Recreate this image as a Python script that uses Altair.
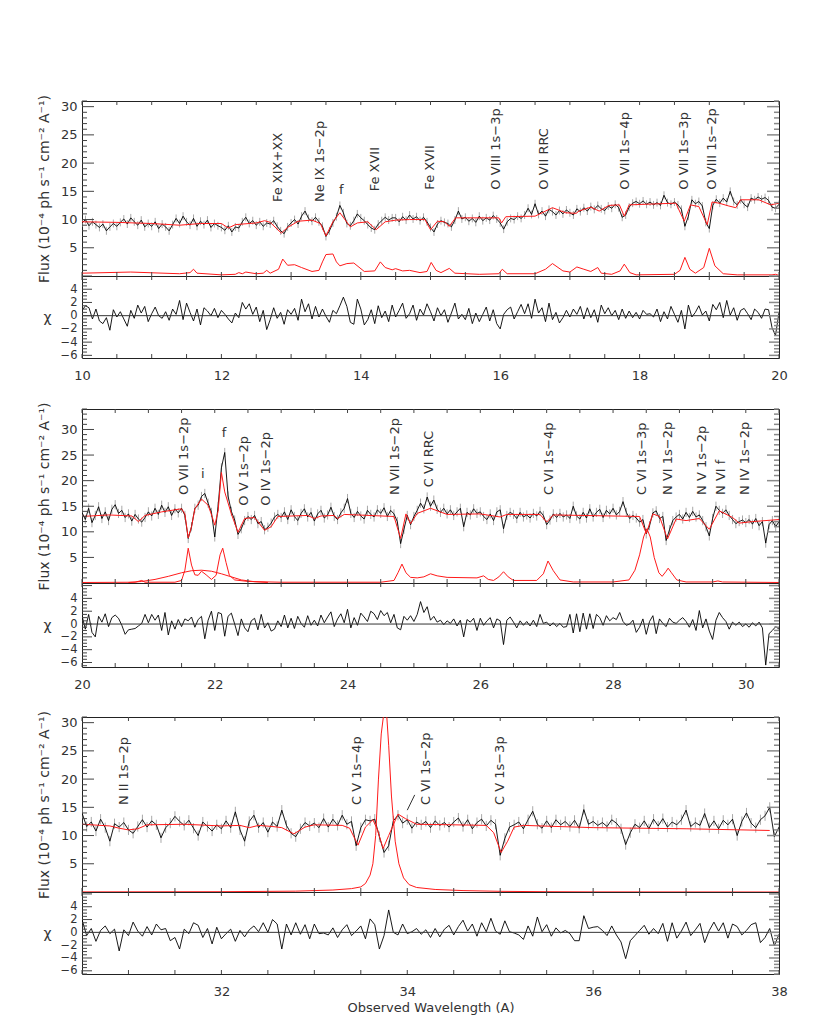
import altair as alt
import numpy as np
import pandas as pd

FONT = "DejaVu Sans"
TXT = "#333333"
W = 697
STEP = 0.05

# ---------------- Panel 1 (10-20 A) ----------------
P1_X0 = 10.0
P1_FLUX = [9.4, 10.0, 8.9, 9.6, 9.1, 8.6, 9.2, 8.0, 8.7, 9.3,
           8.8, 9.5, 10.1, 9.2, 10.3, 9.6, 9.0, 9.9, 8.7, 9.3,
           8.8, 9.6, 8.4, 9.2, 8.7, 8.0, 9.1, 10.2, 9.3, 10.6,
           9.6, 9.0, 10.2, 8.8, 9.7, 9.1, 9.9, 8.6, 9.3, 8.9,
           8.6, 8.1, 8.9, 7.8, 8.7, 8.5, 9.6, 10.4, 9.3, 9.8,
           9.0, 9.6, 8.8, 9.4, 9.2, 9.8, 8.8, 8.0, 7.5, 8.7,
           9.4, 10.0, 9.2, 10.6, 11.5, 10.2, 9.7, 10.4, 9.6, 8.8,
           7.0, 8.0, 9.4, 10.5, 12.5, 11.2, 9.3, 8.9, 9.8, 11.0,
           10.3, 9.8, 9.1, 8.5, 8.2, 9.2, 9.8, 10.4, 9.9, 10.3,
           10.3, 9.6, 10.5, 9.9, 10.8, 10.1, 10.5, 9.8, 10.4, 9.6,
           8.6, 7.8, 9.2, 9.8, 9.5, 9.3, 8.7, 9.9, 11.5, 10.1,
           10.4, 9.7, 10.2, 9.5, 10.6, 9.8, 10.3, 9.9, 10.7, 10.1,
           9.4, 8.3, 9.6, 10.2, 10.0, 10.6, 10.2, 10.8, 12.0, 10.9,
           12.8, 10.9, 11.5, 10.6, 11.8, 11.4, 10.8, 11.6, 11.0, 11.7,
           11.2, 10.8, 11.9, 11.4, 12.1, 11.5, 12.3, 11.8, 12.5, 11.9,
           11.6, 12.4, 12.0, 12.7, 12.1, 10.4, 10.8, 12.2, 12.9, 13.2,
           12.8, 13.3, 12.7, 13.1, 12.6, 13.0, 12.5, 14.3, 13.0, 12.7,
           13.1, 12.6, 11.8, 8.8, 10.6, 13.5, 12.8, 13.2, 12.4, 9.5,
           8.4, 12.5, 13.6, 12.9, 13.8, 13.1, 15.0, 13.2, 12.6, 13.5,
           12.7, 12.2, 13.8, 13.5, 14.0, 13.6, 13.9, 13.4, 12.2, 12.0,
           12.7]
P1_CHI = [0.8, 1.5, 1.2, -0.5, 1.0, -0.8, -1.2, -0.3, -2.2, 0.9,
          -0.2, 0.6, -0.5, -1.6, 0.8, -0.4, 1.6, 0.4, 1.4, -0.9,
          0.3, 1.3, 0.0, -0.4, 0.6, -0.7, 1.0, 0.2, 2.3, -0.6,
          1.9, 0.5, -0.8, 1.0, -1.4, 1.2, 0.7, 0.0, 1.1, -0.3,
          0.8, 0.2, -0.5, -1.1, 0.4, -0.3, 2.0, 1.0, 1.8, 0.2,
          1.3, -0.9, 0.8, -2.1, -0.6, 1.2, -0.4, 0.5, -1.3, 0.9,
          0.2, 1.1, -0.7, 2.5, 0.6, 1.8, -0.5, 1.4, -0.2, 1.0,
          -0.1, -1.0, 0.8, 0.3, 1.5, 2.8, 1.4, -1.0, -1.3, 2.5,
          1.0, -1.4, -0.6, 0.9, -1.2, 1.5, -0.3, 0.7, -0.9, 1.6,
          -0.2, 0.8, 1.9, -0.4, 0.3, 1.6, -0.7, 1.0, 0.1, 1.8,
          0.6, -0.8, 1.2, 0.0, 0.9, -1.0, 0.4, 1.9, -0.5, 0.2,
          -0.6, 1.1, -1.2, 0.4, -0.9, 0.2, 1.3, -0.8, 0.9, -1.2,
          -2.0, 0.2, 0.9, 1.3, -0.5, 0.6, 1.7, 0.3, 1.8, -0.4,
          2.5, 0.4, 1.2, -0.9, 1.9, -0.6, 0.5, -1.1, -0.3, 0.8,
          -0.2, 1.0, 0.2, 1.4, -0.5, 1.2, -0.3, 0.9, -1.0, 1.6,
          0.3, 1.2, 0.0, 0.8, -0.6, 1.0, -0.4, 0.7, -0.3, 0.5,
          -0.5, 0.8, 0.2, 0.3, -0.2, 1.0, -0.9, 0.6, -0.5, 1.4,
          0.2, -1.0, 0.8, -2.0, 1.6, -0.2, 0.5, 1.5, 0.1, 0.7,
          -0.8, 1.7, 0.9, 2.0, -0.3, 2.3, 0.1, 1.2, -0.7, 0.8,
          1.1, 0.3, -0.6, 1.0, 0.5, -0.4, 1.0, 0.9, -1.8, -3.0,
          0.5]
P1_MODEL_LAM = [10.0, 10.5, 11.0, 11.4, 11.7, 12.0, 12.1, 12.2, 12.5, 12.62, 12.7, 12.86,
                12.95, 13.1, 13.3, 13.42, 13.5, 13.6, 13.7, 13.85, 13.95, 14.1, 14.22, 14.35,
                14.5, 14.7, 14.92, 15.0, 15.1, 15.2, 15.27, 15.36, 15.98, 16.02, 16.08, 16.5,
                16.75, 16.94, 17.09, 17.13, 17.3, 17.42, 17.56, 17.71, 17.78, 17.85, 18.52,
                18.64, 18.73, 18.85, 18.97, 19.04, 19.14, 19.28, 19.38, 19.45, 19.71, 19.88, 20.0]
P1_MODEL = [9.6, 9.5, 9.3, 9.0, 9.3, 9.3, 8.5, 9.1, 9.4, 9.8, 9.5, 7.6,
            8.6, 9.7, 9.9, 9.3, 7.1, 9.6, 11.2, 8.7, 9.4, 9.6, 8.2, 9.6,
            9.9, 10.0, 10.0, 8.2, 9.7, 9.6, 8.8, 10.3, 10.3, 9.4, 10.5, 10.6,
            12.1, 11.2, 11.1, 11.5, 12.2, 11.5, 12.5, 12.6, 10.6, 12.6, 12.9,
            9.7, 12.6, 12.3, 9.1, 13.1, 12.9, 12.4, 12.1, 13.5, 13.5, 12.6, 12.9]
P1_COMP_LAM = [10.0, 10.7, 11.4, 11.55, 11.6, 11.65, 12.0, 12.2, 12.25, 12.3, 12.35, 12.5,
               12.6, 12.65, 12.7, 12.82, 12.88, 12.95, 13.05, 13.15, 13.3, 13.4, 13.45, 13.5,
               13.6, 13.65, 13.7, 13.8, 13.9, 14.05, 14.2, 14.28, 14.35, 14.45, 14.5, 14.6,
               14.7, 14.85, 14.95, 15.01, 15.08, 15.15, 15.27, 15.35, 15.7, 15.98, 16.03, 16.1,
               16.5, 16.65, 16.75, 16.9, 17.0, 17.1, 17.2, 17.3, 17.4, 17.45, 17.6, 17.72,
               17.78, 17.86, 17.95, 18.5, 18.58, 18.65, 18.72, 18.8, 18.92, 19.0, 19.08, 19.2,
               19.4, 19.9, 19.95, 20.0]
P1_COMP = [0.5, 0.7, 0.4, 0.6, 1.2, 0.5, 0.2, 0.3, 0.6, 0.4, 0.7, 0.4,
           0.5, 1.0, 0.5, 1.2, 3.0, 1.9, 2.0, 1.5, 0.8, 1.0, 2.5, 3.8,
           3.9, 2.5, 1.8, 2.2, 2.3, 0.8, 0.9, 2.5, 1.5, 1.1, 1.3, 0.9,
           1.0, 0.6, 0.8, 2.4, 1.0, 0.6, 1.35, 0.5, 0.3, 0.4, 1.2, 0.4,
           0.4, 1.2, 2.2, 0.9, 0.7, 1.6, 1.2, 0.8, 1.5, 0.5, 0.3, 0.9,
           2.1, 0.6, 0.2, 0.3, 1.0, 3.3, 1.2, 0.5, 1.5, 4.9, 1.8, 0.4,
           0.2, 0.2, 0.3, 0.1]
P1_LABELS = ["Fe XIX+XX", "Ne IX 1s\u22122p", "Fe XVII", "Fe XVII", "O VIII 1s\u22123p",
             "O VII RRC", "O VII 1s\u22124p", "O VII 1s\u22123p", "O VIII 1s\u22122p"]
P1_LABEL_LAM = [12.81, 13.41, 14.2, 14.99, 15.94, 16.63, 17.79, 18.64, 19.04]
P1_LABEL_Y = [13.1, 13.1, 15.0, 15.3, 15.3, 15.3, 15.3, 15.3, 15.3]
P1_UP = ["f"]
P1_UP_LAM = [13.72]
P1_UP_Y = [14.0]

# ---------------- Panel 2 (20-30.5 A) ----------------
P2_X0 = 20.0
P2_FLUX = [13.8, 12.4, 14.6, 11.8, 13.2, 14.9, 12.6, 13.9, 12.2, 14.4,
           15.3, 13.6, 14.2, 12.8, 13.5, 12.1, 13.4, 12.5, 11.9, 12.8,
           13.9, 13.1, 14.6, 13.4, 15.2, 13.8, 14.9, 13.2, 14.5, 13.7,
           14.6, 13.2, 8.7, 11.0, 14.6, 15.2, 16.9, 17.5, 15.6, 13.8,
           9.0, 15.0, 22.5, 25.5, 17.0, 14.0, 12.3, 9.5, 10.6, 12.2,
           13.0, 12.4, 13.2, 11.6, 12.0, 10.4, 10.9, 11.7, 12.9, 13.4,
           12.8, 13.9, 12.4, 14.3, 13.0, 12.2, 13.6, 14.5, 12.9, 13.8,
           12.1, 13.5, 14.2, 12.7, 13.3, 14.8, 13.0, 12.4, 13.7, 14.6,
           16.5, 13.6, 12.8, 14.0, 13.1, 12.5, 14.2, 13.4, 12.9, 14.3,
           13.6, 14.7, 13.0, 14.2, 13.5, 12.0, 7.7, 10.5, 13.2, 11.4,
           13.0, 14.2, 15.6, 14.5, 16.8, 15.0, 16.2, 14.4, 13.8, 14.6,
           13.5, 14.3, 13.2, 13.9, 14.6, 11.0, 13.8, 13.3, 14.5, 13.6,
           13.9, 13.0, 12.4, 13.5, 12.2, 13.9, 14.3, 10.6, 13.2, 13.8,
           13.4, 12.6, 13.8, 12.9, 13.3, 12.7, 13.6, 13.1, 14.0, 13.2,
           11.4, 12.3, 13.5, 12.8, 13.6, 12.9, 13.3, 12.6, 15.0, 13.1,
           12.5, 13.8, 12.7, 14.5, 12.9, 13.8, 14.4, 12.8, 14.2, 13.5,
           14.6, 13.3, 14.0, 15.9, 13.8, 12.6, 13.2, 12.7, 11.9, 12.4,
           9.6, 11.2, 13.7, 14.1, 12.6, 13.0, 8.3, 10.4, 12.2, 12.9,
           13.4, 12.5, 13.8, 12.8, 14.0, 12.9, 13.3, 12.2, 11.0, 9.2,
           12.6, 15.0, 14.2, 13.6, 14.3, 13.2, 12.4, 11.6, 12.0, 12.3,
           11.8, 12.4, 11.5, 12.6, 11.2, 12.0, 7.8, 11.4, 12.2, 11.0,
           12.0]
P2_CHI = [1.3, -0.8, 1.5, -1.3, -2.0, 1.2, 0.3, 1.6, -0.4, 1.0,
          1.4, 0.9, -0.2, -1.6, -0.9, -0.8, -0.7, -0.3, 0.1, 1.5,
          0.2, 1.5, 0.6, 1.4, -1.0, 1.8, -1.7, 0.5, -0.8, 0.7,
          -0.4, 0.8, 0.5, 1.1, -0.5, 0.7, 1.2, -2.3, 0.6, 2.0,
          -1.0, 1.8, 1.6, -1.9, 1.2, 1.7, 0.0, -1.8, 0.8, -0.6,
          -1.2, 0.5, 0.9, -0.9, 1.5, -0.6, 0.2, -1.1, -0.8, 0.5,
          -0.4, 1.4, -0.6, 0.9, -0.7, 1.2, 0.1, -0.5, 1.3, -0.2,
          0.6, -0.3, 1.4, 0.2, 1.1, 1.9, -0.4, 0.8, 1.6, 0.2,
          2.3, -0.6, 1.0, -0.2, 1.7, 1.1, 0.4, 2.0, 1.6, 0.7,
          2.1, 1.3, 1.8, 0.2, 1.5, -0.6, -0.9, 1.2, 0.6, 1.3,
          0.4, 1.5, 3.5, 1.8, 2.7, 0.6, 1.2, 0.3, 0.6, -0.1,
          0.5, 0.1, 0.8, -0.3, 0.6, -2.0, 0.7, 0.3, 0.9, -1.0,
          0.9, -0.2, 0.5, 1.0, -0.6, 0.8, 0.5, -3.2, 0.6, 1.1,
          0.3, -0.6, 0.5, -0.2, 0.4, -0.3, 0.6, -0.4, 1.5, 0.1,
          0.3, -0.3, 0.2, -0.4, 0.1, -0.5, -0.4, 1.5, -1.4, 1.6,
          -1.2, 1.7, -0.8, 1.6, -0.7, 1.5, 1.0, -0.2, 1.3, 0.5,
          1.0, 0.7, 1.8, 0.4, -0.2, 0.0, 0.6, -1.3, -0.5, 0.8,
          -1.6, 0.4, 1.3, -1.5, 0.8, 0.1, -0.4, 0.9, 0.3, 0.1,
          0.6, 1.0, 0.4, -0.5, 0.7, -1.0, 2.1, -0.6, 0.8, -1.1,
          -2.4, 0.6, 1.8, 1.0, 0.4, -0.8, 0.3, -0.2, 0.3, -0.4,
          0.0, -0.5, 0.2, -0.3, 0.3, -0.6, -6.4, -1.5, -1.0, -0.4,
          -0.8]
P2_MODEL_LAM = [20.0, 20.4, 20.75, 20.85, 20.95, 21.2, 21.5, 21.55, 21.6, 21.65, 21.7, 21.8,
                21.9, 21.96, 22.0, 22.05, 22.1, 22.15, 22.25, 22.35, 22.45, 22.6, 22.75, 22.85,
                22.95, 23.4, 23.5, 23.6, 23.8, 23.85, 23.95, 24.7, 24.8, 24.88, 24.95, 25.05,
                25.25, 25.5, 26.0, 26.3, 26.4, 26.9, 27.0, 27.1, 28.4, 28.5, 28.6, 28.7,
                28.82, 28.95, 29.1, 29.3, 29.45, 29.6, 29.8, 29.9, 30.1, 30.5]
P2_MODEL = [13.0, 13.3, 13.1, 12.0, 13.2, 13.9, 14.5, 13.5, 8.8, 11.0, 14.5, 16.4,
            15.2, 13.0, 11.3, 14.0, 21.6, 17.8, 13.5, 9.9, 12.6, 12.8, 10.3, 11.0,
            13.0, 13.2, 12.6, 13.1, 13.2, 12.6, 13.4, 13.0, 8.7, 13.5, 11.6, 13.6,
            14.6, 13.4, 13.5, 12.9, 13.4, 13.4, 11.9, 13.3, 13.0, 9.7, 13.5, 13.0,
            8.6, 12.5, 12.2, 12.6, 10.5, 14.1, 12.8, 11.7, 12.0, 12.4]
P2_COMP_LAM = [20.0, 20.8, 20.9, 20.95, 21.4, 21.5, 21.55, 21.6, 21.65, 21.7, 21.75, 21.8,
               21.87, 21.95, 22.02, 22.08, 22.12, 22.17, 22.22, 22.3, 22.5, 23.0, 24.5, 24.7,
               24.76, 24.82, 24.88, 24.95, 25.05, 25.15, 25.25, 25.35, 25.5, 25.95, 26.05,
               26.12, 26.2, 26.28, 26.35, 26.42, 26.5, 26.85, 26.95, 27.02, 27.1, 27.2, 27.4,
               28.0, 28.24, 28.33, 28.4, 28.46, 28.51, 28.56, 28.62, 28.69, 28.74, 28.8,
               28.83, 28.88, 28.96, 29.1, 29.5, 29.58, 29.65, 30.5]
P2_COMP = [0.1, 0.15, 0.5, 0.15, 0.15, 0.5, 2.5, 6.8, 3.5, 1.6, 1.5, 2.3,
           1.6, 0.7, 1.5, 5.5, 6.8, 4.0, 1.5, 0.6, 0.3, 0.15, 0.15, 0.5,
           2.0, 3.7, 2.0, 1.1, 1.0, 1.2, 1.8, 1.4, 1.1, 1.0, 1.4,
           0.7, 0.5, 1.2, 2.2, 1.2, 0.5, 0.5, 1.8, 4.3, 2.4, 0.6, 0.2,
           0.2, 0.6, 2.5, 5.5, 9.0, 10.6, 9.0, 5.0, 2.0, 1.3, 2.3,
           2.9, 2.0, 0.6, 0.2, 0.2, 0.4, 0.2, 0.1]
P2_BROAD_LAM = [20.7, 20.9, 21.1, 21.3, 21.5, 21.65, 21.8, 21.95, 22.1, 22.25, 22.4, 22.6, 22.8]
P2_BROAD = [0.1, 0.3, 0.7, 1.3, 2.0, 2.4, 2.5, 2.3, 1.8, 1.2, 0.6, 0.25, 0.1]
P2_LABELS = ["O VII 1s\u22122p", "O V 1s\u22122p", "O IV 1s\u22122p", "N VII 1s\u22122p",
             "C VI RRC", "C VI 1s\u22124p", "C VI 1s\u22123p", "N VI 1s\u22122p",
             "N V 1s\u22122p", "N VI f", "N IV 1s\u22122p"]
P2_LABEL_LAM = [21.54, 22.44, 22.77, 24.72, 25.23, 27.04, 28.43, 28.83, 29.34, 29.63, 29.99]
P2_LABEL_Y = [17.2, 15.1, 15.1, 17.2, 18.7, 17.2, 17.2, 17.2, 17.2, 17.2, 17.2]
P2_UP = ["i", "f"]
P2_UP_LAM = [21.82, 22.14]
P2_UP_Y = [20.0, 28.0]

# ---------------- Panel 3 (30.5-38 A) ----------------
P3_X0 = 30.5
P3_FLUX = [14.0, 11.6, 12.4, 10.8, 12.9, 11.4, 9.0, 12.1, 11.5, 12.3,
           11.0, 10.4, 11.6, 12.8, 11.5, 12.6, 11.9, 9.6, 11.4, 12.2,
           13.4, 12.5, 11.8, 12.7, 11.3, 10.0, 12.4, 11.6, 10.8, 11.9,
           11.2, 12.6, 11.4, 14.2, 11.0, 9.0, 12.5, 13.6, 11.4, 12.3,
           10.6, 12.4, 11.6, 14.5, 11.8, 10.4, 9.8, 11.2, 12.3, 11.7,
           12.2, 11.4, 13.0, 11.5, 12.9, 11.8, 13.6, 12.0, 12.5, 8.2,
           11.4, 12.8, 12.6, 12.9, 9.8, 7.0, 8.2, 12.6, 13.6, 12.2,
           12.8, 11.3, 12.4, 11.9, 12.5, 11.4, 12.6, 11.8, 12.3, 11.5,
           12.4, 13.1, 11.6, 12.8, 11.2, 12.3, 12.9, 11.7, 12.7, 12.0,
           6.5, 9.5, 11.5, 11.9, 12.4, 11.2, 12.8, 14.3, 12.0, 11.3,
           12.6, 11.4, 12.8, 11.9, 12.5, 11.6, 12.7, 11.3, 14.6, 12.0,
           12.5, 11.8, 12.3, 11.6, 12.8, 12.2, 11.2, 8.4, 10.5, 12.0,
           11.4, 12.6, 11.2, 12.9, 11.7, 13.0, 11.5, 12.4, 11.9, 12.8,
           14.5, 11.6, 12.3, 11.8, 13.9, 11.4, 12.6, 11.2, 12.7, 11.9,
           12.9, 10.0, 12.5, 14.0, 12.2, 11.4, 12.8, 13.5, 15.0, 9.8,
           11.5]
P3_CHI = [2.0, -0.5, 0.6, -1.4, 0.3, 1.0, -0.2, 0.5, -2.9, 0.4,
          -0.5, 1.6, 0.2, -0.6, 0.9, -0.4, 1.3, 0.4, 0.6, -1.3,
          -0.8, -2.6, 0.5, -0.2, 1.5, 1.1, -0.8, 0.6, -1.8, 0.8,
          -1.0, -0.2, 0.5, -1.4, 0.3, -0.7, 0.4, 1.0, 0.1, 1.5,
          0.0, 2.0, 1.3, -2.6, 1.3, -0.4, 1.5, -0.3, 1.2, -1.0,
          1.3, -0.2, -0.1, -0.4, 0.7, -0.8, 0.4, 1.2, -0.5, 0.2,
          1.0, -1.0, 2.1, 1.2, -2.6, -0.5, 3.5, 0.0, -0.4, 1.3,
          -0.2, 0.1, 0.6, -0.3, 0.4, -0.8, 0.6, -0.7, 0.5, 1.1,
          -0.4, 0.9, 1.9, 0.2, 1.3, -0.6, 1.5, 0.1, 2.2, 0.2,
          -0.3, 1.8, 0.1, -0.1, -0.4, -1.1, 1.0, -0.6, 2.4, 0.1,
          1.2, -0.6, 0.7, -0.1, 0.3, -0.2, -1.3, -1.3, 2.6, 0.6,
          0.8, 0.9, 0.3, -0.5, 1.0, -0.4, -1.5, -4.1, -1.3, -0.5,
          0.3, 1.1, -0.3, 0.6, -0.2, 1.4, -1.4, 1.5, -0.9, 0.2,
          1.6, -0.5, 0.4, 1.4, -1.6, 0.3, 1.6, 0.2, 1.5, -0.9,
          1.3, 0.9, -0.4, 0.3, 1.2, 1.5, -1.6, -0.8, 0.6, -2.1,
          -0.3]
P3_MODEL_LAM = [30.5, 30.8, 30.9, 31.0, 31.1, 31.2, 31.6, 32.0, 32.2, 32.3, 32.4, 32.55,
                32.65, 32.78, 32.9, 33.0, 33.3, 33.38, 33.47, 33.55, 33.63, 33.68, 33.74,
                33.8, 33.9, 33.98, 34.1, 34.5, 34.85, 34.93, 35.01, 35.08, 35.15, 35.25,
                36.0, 37.0, 37.9]
P3_MODEL = [12.0, 11.7, 11.3, 11.0, 11.2, 11.9, 12.0, 11.7, 11.8, 11.4, 11.8, 11.6,
            11.4, 10.3, 11.5, 11.9, 11.8, 11.3, 8.3, 11.5, 12.8, 11.0, 7.7,
            10.0, 13.8, 13.0, 12.0, 11.9, 11.8, 10.5, 7.0, 9.0, 11.5, 11.8,
            11.4, 11.2, 10.9]
P3_COMP_LAM = [30.5, 32.0, 32.8, 33.2, 33.4, 33.5, 33.55, 33.6, 33.63, 33.66, 33.69, 33.72,
               33.75, 33.78, 33.8, 33.83, 33.87, 33.91, 33.96, 34.02, 34.1, 34.3, 34.6, 35.0,
               35.5, 36.0, 38.0]
P3_COMP = [0.02, 0.05, 0.15, 0.35, 0.6, 0.9, 1.5, 3.0, 5.0, 10.0, 20.0, 28.0,
           32.0, 31.0, 26.0, 17.0, 9.0, 5.0, 2.5, 1.3, 0.8, 0.45, 0.25, 0.12,
           0.05, 0.02, 0.0]
P3_LABELS = ["N II 1s\u22122p", "C V 1s\u22124p", "C VI 1s\u22122p", "C V 1s\u22123p"]
P3_LABEL_LAM = [30.95, 33.46, 34.2, 35.0]
P3_LABEL_Y = [15.4, 15.4, 15.4, 15.4]
P3_LEADER = {"lam": [34.0], "lam2": [34.08], "f": [14.5], "f2": [17.2]}

ERR = [0.7, 0.9, 0.9]


def sc(dom):
    return alt.Scale(domain=dom, nice=False, zero=False)


def xticks_layers(xdom, xenc, h):
    t = pd.DataFrame({"lam": np.round(np.arange(np.ceil(xdom[0] * 2) / 2, xdom[1] + 0.001, 0.5), 2)})
    base = alt.Chart(t).mark_rule(color="#444", strokeWidth=1)
    return [base.encode(x=xenc("lam"), y=alt.value(h), y2=alt.value(h - 4)),
            base.encode(x=xenc("lam"), y=alt.value(0), y2=alt.value(4))]


def yticks_layers(vals, yenc, length):
    df = pd.DataFrame({"v": vals})
    left = alt.Chart(df).mark_rule(color="#444", strokeWidth=1).encode(
        y=yenc("v"), x=alt.value(0), x2=alt.value(length))
    right = alt.Chart(df).mark_rule(color="#8a8a8a", strokeWidth=1.5).encode(
        y=yenc("v"), x=alt.value(W), x2=alt.value(W - length))
    return [left, right]


def panel(x0, flux, chi, err, mlam, mval, clam, cval, extra, labs, lablam, laby,
          ups, uplam, upy, xdom, fdom, cdom, fh, ch, xlabels, leader=None, xtitle=None):
    lam = np.round(x0 + STEP * np.arange(len(flux)), 3)
    fl = np.array(flux)
    xs, fs, cs = sc(xdom), sc(fdom), sc(cdom)

    yaxis = alt.Axis(values=[5, 10, 15, 20, 25, 30], ticks=False, tickSize=0, domain=False,
                     grid=False, labelFont=FONT, labelFontSize=13, labelColor=TXT,
                     labelPadding=5, labelFlush=False, labelOverlap=False,
                     title="Flux (10\u207b\u2074 ph s\u207b\u00b9 cm\u207b\u00b2 A\u207b\u00b9)",
                     titleFont=FONT, titleFontSize=14, titleFontWeight="normal",
                     titleColor=TXT, titleX=-38, titleY=fh / 2, titleAngle=270,
                     titleAlign="center", titleBaseline="middle")

    def FX(f):
        return alt.X(f"{f}:Q", scale=xs, axis=None)

    def FY(f):
        return alt.Y(f"{f}:Q", scale=fs, axis=yaxis)

    d = pd.DataFrame({"lam": lam, "flux": fl, "lo": fl - err, "hi": fl + err})
    eb = alt.Chart(d).mark_rule(color="#a8a8a8", strokeWidth=1, clip=True).encode(
        x=FX("lam"), y=FY("lo"), y2="hi:Q")
    ln = alt.Chart(d).mark_line(color="#000000", strokeWidth=0.9, clip=True).encode(
        x=FX("lam"), y=FY("flux"))
    md = pd.DataFrame({"lam": mlam, "m": mval})
    mline = alt.Chart(md).mark_line(color="#ff1a1a", strokeWidth=1, clip=True).encode(
        x=FX("lam"), y=FY("m"))
    comps = [pd.DataFrame({"lam": clam, "c": cval, "seg": "a"})]
    for i, (el, ev) in enumerate(extra):
        comps.append(pd.DataFrame({"lam": el, "c": ev, "seg": f"b{i}"}))
    cd = pd.concat(comps, ignore_index=True)
    cline = alt.Chart(cd).mark_line(color="#ff1a1a", strokeWidth=1, clip=True).encode(
        x=FX("lam"), y=FY("c"), detail="seg:N", order="lam:Q")
    ld = pd.DataFrame({"lam": lablam, "y": laby, "t": labs})
    txt = alt.Chart(ld).mark_text(angle=270, align="left", baseline="middle", font=FONT,
                                  fontSize=13, color=TXT).encode(
        x=FX("lam"), y=FY("y"), text="t:N")
    layers = [eb, ln, mline, cline, txt]
    if ups:
        ud = pd.DataFrame({"lam": uplam, "y": upy, "t": ups})
        layers.append(alt.Chart(ud).mark_text(align="center", baseline="bottom", font=FONT,
                                              fontSize=13, color=TXT).encode(
            x=FX("lam"), y=FY("y"), text="t:N"))
    if leader is not None:
        layers.append(alt.Chart(pd.DataFrame(leader)).mark_rule(color="#333", strokeWidth=1).encode(
            x=FX("lam"), x2="lam2:Q", y=FY("f"), y2="f2:Q"))
    fmin = [v for v in range(1, int(fdom[1]) + 1) if v % 5 != 0]
    fmaj = [v for v in range(5, int(fdom[1]) + 1, 5)]
    layers += yticks_layers(fmin, FY, 5) + yticks_layers(fmaj, FY, 12)
    layers += xticks_layers(xdom, FX, fh)
    fchart = alt.layer(*layers).properties(width=W, height=fh)

    # chi panel
    xax = dict(values=xlabels, ticks=False, tickSize=0, domain=False, grid=False,
               labelFont=FONT, labelFontSize=13, labelColor=TXT, labelPadding=11,
               labelFlush=False, labelOverlap=False)
    if xtitle:
        xax.update(title=xtitle, titleFont=FONT, titleFontSize=13, titleFontWeight="normal",
                   titleColor=TXT, titleY=33, titleBaseline="middle")
    else:
        xax.update(title=None)
    xaxis = alt.Axis(**xax)
    cyaxis = alt.Axis(values=[-6, -4, -2, 0, 2, 4], ticks=False, tickSize=0, domain=False,
                      grid=False, labelFont=FONT, labelFontSize=11.5, labelColor=TXT,
                      labelPadding=5, labelFlush=False, labelOverlap=False,
                      title="\u03c7", titleFont=FONT, titleFontSize=14, titleFontWeight="normal",
                      titleColor=TXT, titleX=-35, titleY=ch / 2, titleAngle=0,
                      titleAlign="center", titleBaseline="middle")

    def CX(f):
        return alt.X(f"{f}:Q", scale=xs, axis=xaxis)

    def CY(f):
        return alt.Y(f"{f}:Q", scale=cs, axis=cyaxis)

    cdf = pd.DataFrame({"lam": lam[:len(chi)], "chi": chi})
    chl = alt.Chart(cdf).mark_line(color="#000000", strokeWidth=0.9, clip=True).encode(
        x=CX("lam"), y=CY("chi"))
    zero = alt.Chart(pd.DataFrame({"lam": [xdom[0], xdom[1]], "z": [0, 0]})).mark_line(
        color="#333", strokeWidth=1).encode(x=CX("lam"), y=CY("z"))
    cmaj = [v for v in range(-6, 7, 2) if cdom[0] <= v <= cdom[1]]
    cmin = [v / 2 for v in range(-14, 14) if cdom[0] <= v / 2 <= cdom[1] and v % 4 != 0]
    clayers = [chl, zero] + yticks_layers(cmin, CY, 5) + yticks_layers(cmaj, CY, 10)
    clayers += xticks_layers(xdom, CX, ch)
    cchart = alt.layer(*clayers).properties(width=W, height=ch)
    return fchart, cchart


def spacer(h):
    return alt.Chart(pd.DataFrame({"s": [0]})).mark_point(opacity=0).encode(
        x=alt.X("s:Q", axis=None), y=alt.Y("s:Q", axis=None)).properties(
        width=W, height=h, view=alt.ViewBackground(stroke="transparent"))


f1, c1 = panel(P1_X0, P1_FLUX, P1_CHI, ERR[0], P1_MODEL_LAM, P1_MODEL, P1_COMP_LAM, P1_COMP, [],
               P1_LABELS, P1_LABEL_LAM, P1_LABEL_Y, P1_UP, P1_UP_LAM, P1_UP_Y,
               [10, 20], [0, 31.0], [-6.4, 6.0], 175, 82, [10, 12, 14, 16, 18, 20])
f2, c2 = panel(P2_X0, P2_FLUX, P2_CHI, ERR[1], P2_MODEL_LAM, P2_MODEL, P2_COMP_LAM, P2_COMP,
               [(P2_BROAD_LAM, P2_BROAD)],
               P2_LABELS, P2_LABEL_LAM, P2_LABEL_Y, P2_UP, P2_UP_LAM, P2_UP_Y,
               [20, 30.5], [0, 34.0], [-6.7, 6.4], 174, 84, [20, 22, 24, 26, 28, 30])
f3, c3 = panel(P3_X0, P3_FLUX, P3_CHI, ERR[2], P3_MODEL_LAM, P3_MODEL, P3_COMP_LAM, P3_COMP, [],
               P3_LABELS, P3_LABEL_LAM, P3_LABEL_Y, [], [], [],
               [30.5, 38], [0, 31.0], [-6.5, 6.3], 175, 82, [32, 34, 36, 38],
               leader=P3_LEADER, xtitle="Observed Wavelength (A)")

chart = alt.vconcat(f1, c1, spacer(51), f2, c2, spacer(50), f3, c3,
                    spacing=0, bounds="flush").properties(
    padding={"left": 28, "top": 85, "right": 10, "bottom": 10},
    background="white",
).configure_view(stroke="#222222", strokeWidth=1)

chart.save("out.html", embed_options={"renderer": "svg", "actions": False})
